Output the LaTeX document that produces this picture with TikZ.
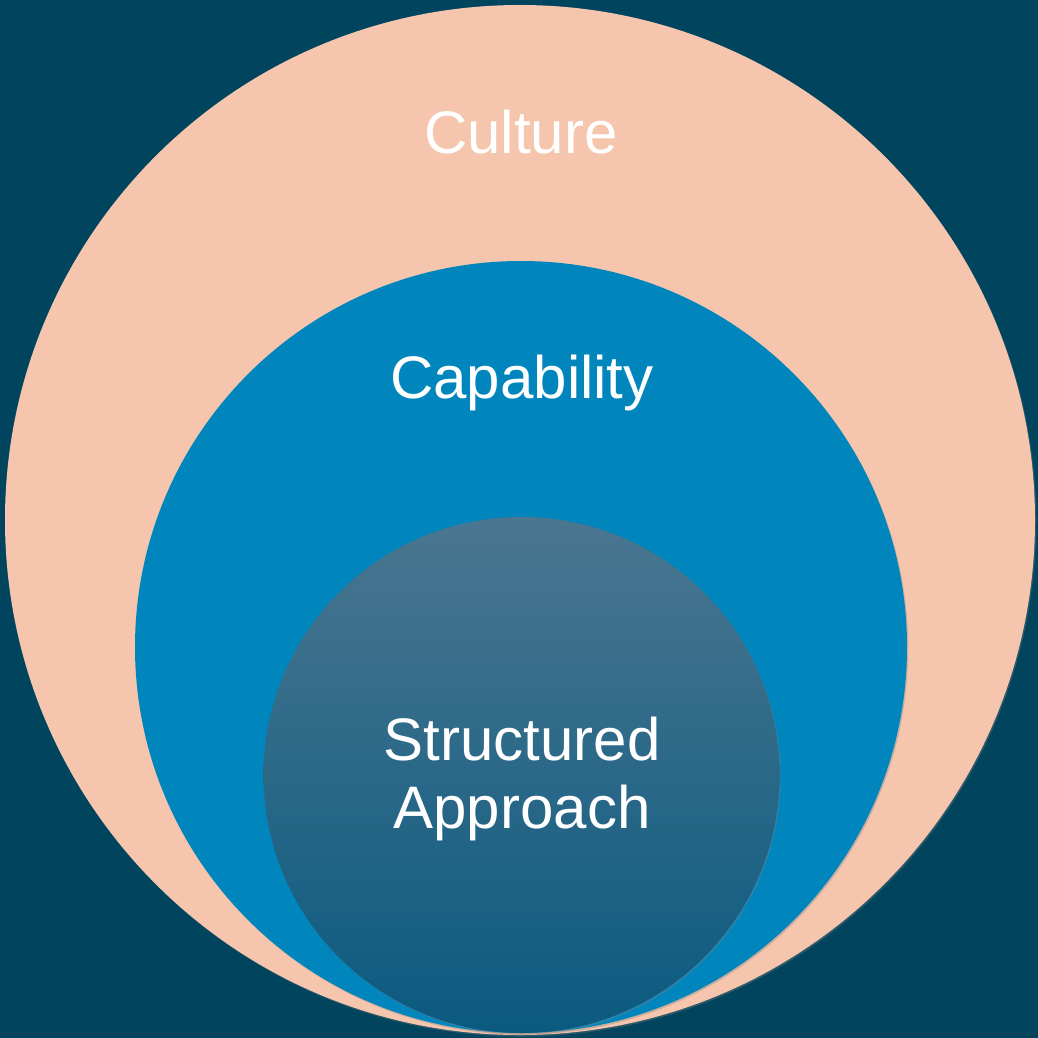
\documentclass[tikz,border=0pt]{standalone}
\usepackage{fontspec}
\setmainfont{Liberation Sans}
\usetikzlibrary{shadows}

\definecolor{bgteal}{HTML}{00445E}
\definecolor{peach}{HTML}{F5C6AD}
\definecolor{midblue}{HTML}{0086BC}
\definecolor{innertop}{HTML}{4A7690}
\definecolor{innerbot}{HTML}{0B5A80}

\begin{document}
\begin{tikzpicture}
[every node/.style={inner sep=0pt, outer sep=0pt}]
\fill [bgteal] (0pt, 0pt) rectangle (519pt, -519pt);
\useasboundingbox (0pt, 0pt) rectangle (519pt, -519pt);
\node (culture) [circle, minimum size=515pt, fill=peach, drop shadow={shadow xshift=0.6pt, shadow yshift=-0.8pt, opacity=0.35}] at (260.0pt, -260.0pt) {};
\node (capability) [circle, minimum size=386pt, fill=midblue, drop shadow={shadow xshift=0.6pt, shadow yshift=-0.8pt, opacity=0.35}] at (260.5pt, -323.5pt) {};
\node (approach) [circle, minimum size=258pt, top color=innertop, middle color=innerbot!82!innertop, bottom color=innerbot, drop shadow={shadow xshift=0.6pt, shadow yshift=-0.8pt, opacity=0.35}] at (260.75pt, -387.5pt) {};
\node (t1) [font=\fontsize{30}{34}\selectfont, text=white] at (260.5pt, -66.0pt) {Culture};
\node (t2) [font=\fontsize{30}{34}\selectfont, text=white] at (261.0pt, -191.5pt) {Capability};
\node (t3) [font=\fontsize{30}{34}\selectfont, text=white, align=center] at (261.0pt, -389.5pt) {Structured\\Approach};
\end{tikzpicture}
\end{document}
